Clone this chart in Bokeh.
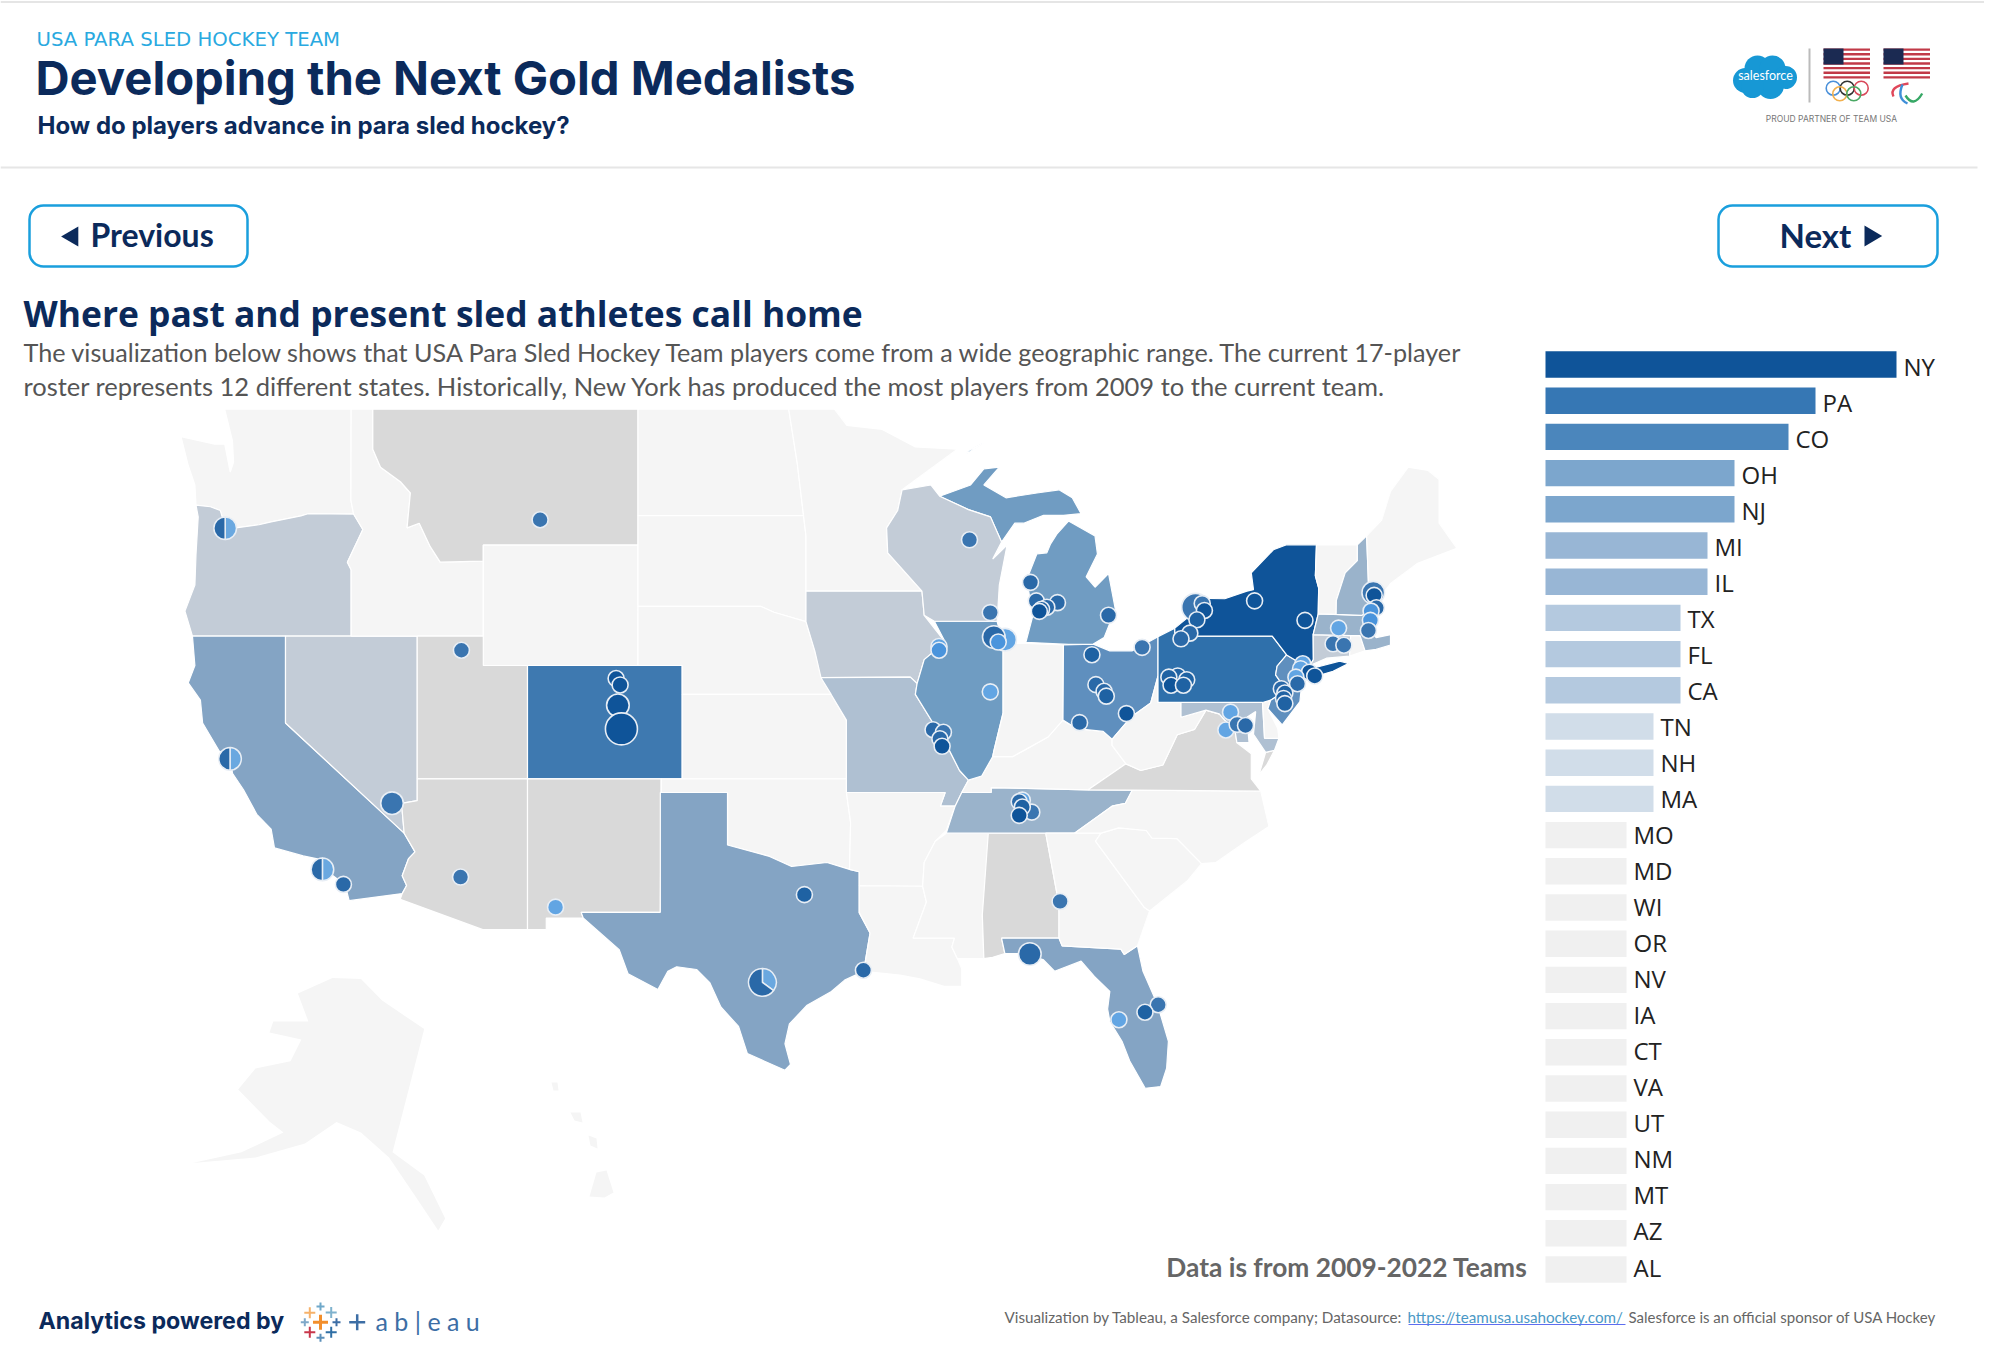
import math
from bokeh.plotting import figure
from bokeh.models import Range1d, ColumnDataSource
from bokeh.core.properties import value
from bokeh.embed import file_html
from bokeh.resources import INLINE

# ---------- bar chart data ----------
BAR_STATES = ["NY","PA","CO","OH","NJ","MI","IL","TX","FL","CA","TN","NH","MA","MO","MD","WI","OR","NV","IA","CT","VA","UT","NM","MT","AZ","AL"]
BAR_PLAYERS = [13,10,9,7,7,6,6,5,5,5,4,4,4,3,3,3,3,3,3,3,3,3,3,3,3,3]
BAR_COLORS = {13:"#0F5499",10:"#3677B4",9:"#4B86BC",7:"#7CA6CD",6:"#98B6D5",5:"#B4C9DF",4:"#D1DDE9",3:"#F0F0F0"}

# ---------- map shading: darker = more players ----------
MAP_COLORS = {"NY":"#0F5499","PA":"#2F70AB","CO":"#3E79B0","OH":"#5F8FBE","NJ":"#5F8FBE","MI":"#709CC2","IL":"#6F9CC2",
              "TX":"#84A4C4","CA":"#84A4C4","FL":"#84A4C4","TN":"#9AB3CB","NH":"#9AB3CB","MA":"#9AB3CB","MO":"#AFC0D2","MD":"#AFC0D2",
              "WI":"#C3CCD7","OR":"#C3CCD7","NV":"#C3CCD7","IA":"#C3CCD7","CT":"#C3CCD7",
              "VA":"#D9D9D9","UT":"#D9D9D9","NM":"#D9D9D9","MT":"#D9D9D9","AZ":"#D9D9D9","AL":"#D9D9D9"}
OTHER_STATE = "#F5F5F5"

# ---------- state outlines (lon, lat) ----------
STATE_OUTLINES = [
("WA",[(-124.73,48.38),(-123.2,48.15),(-122.75,48.15),(-122.5,47.3),(-122.35,47.6),(-122.4,48.25),(-122.75,49.2),(-117.03,49.2),(-117.04,46.42),(-116.92,45.99),(-118.98,46.0),(-119.3,45.93),(-120.65,45.74),(-121.2,45.65),(-122.25,45.55),(-122.76,45.65),(-122.95,46.1),(-123.4,46.22),(-124.05,46.27),(-124.1,46.9),(-124.4,47.5)]),
("OR",[(-124.05,46.27),(-123.4,46.22),(-122.95,46.1),(-122.76,45.65),(-122.25,45.55),(-121.2,45.65),(-120.65,45.74),(-119.3,45.93),(-118.98,46.0),(-116.92,45.99),(-116.5,45.5),(-117.2,44.45),(-117.03,44.2),(-117.03,42.0),(-124.21,42.0),(-124.55,42.84),(-124.1,43.7),(-124.05,44.7),(-123.95,45.9)]),
("CA",[(-124.21,42.0),(-120.0,42.0),(-120.0,39.0),(-114.63,35.0),(-114.14,34.3),(-114.43,34.05),(-114.72,33.4),(-114.52,33.03),(-114.72,32.72),(-117.12,32.45),(-117.3,33.05),(-118.4,33.75),(-118.5,34.03),(-119.2,34.15),(-120.5,34.45),(-120.65,35.15),(-121.3,35.7),(-121.9,36.6),(-122.4,37.2),(-122.5,37.8),(-123.0,38.0),(-123.75,39.0),(-123.85,39.8),(-124.4,40.4),(-124.1,41.0)]),
("NV",[(-120,42),(-114.04,42),(-114.04,36.2),(-114.75,36.1),(-114.63,35.0),(-120,39)]),
("ID",[(-117.03,49.2),(-116.05,49.2),(-116.05,48.0),(-115.7,47.45),(-114.8,47.0),(-114.35,46.65),(-114.5,45.55),(-113.95,45.7),(-113.45,44.95),(-113.0,44.45),(-111.05,44.48),(-111.05,42),(-117.03,42),(-117.03,44.2),(-117.2,44.45),(-116.5,45.5),(-116.92,45.99),(-117.04,46.42)]),
("MT",[(-116.05,49.2),(-104.05,49.2),(-104.05,45),(-111.05,45),(-111.05,44.48),(-113.0,44.45),(-113.45,44.95),(-113.95,45.7),(-114.5,45.55),(-114.35,46.65),(-114.8,47.0),(-115.7,47.45),(-116.05,48)]),
("WY",[(-111.05,45),(-104.05,45),(-104.05,41),(-111.05,41)]),
("UT",[(-114.04,42),(-111.05,42),(-111.05,41),(-109.05,41),(-109.05,37),(-114.04,37)]),
("CO",[(-109.05,41),(-102.05,41),(-102.05,37),(-109.05,37)]),
("AZ",[(-114.04,37),(-109.05,37),(-109.05,31.33),(-111.07,31.33),(-114.81,32.5),(-114.72,32.72),(-114.52,33.03),(-114.72,33.4),(-114.43,34.05),(-114.14,34.3),(-114.63,35.0),(-114.75,36.1),(-114.04,36.2)]),
("NM",[(-109.05,37),(-103.0,37),(-103.04,32.0),(-106.62,32.0),(-106.53,31.78),(-108.2,31.78),(-108.2,31.33),(-109.05,31.33)]),
("ND",[(-104.05,49.2),(-97.23,49.2),(-96.85,47.6),(-96.56,45.94),(-104.05,45.94)]),
("SD",[(-104.05,45.94),(-96.56,45.94),(-96.45,45.3),(-96.45,43.5),(-96.45,42.49),(-97.9,42.8),(-98.5,43.0),(-104.05,43)]),
("NE",[(-104.05,43),(-98.5,43),(-97.9,42.8),(-96.45,42.49),(-96.05,41.5),(-95.31,40.0),(-102.05,40),(-102.05,41),(-104.05,41)]),
("KS",[(-102.05,40),(-95.31,40),(-94.62,39.1),(-94.62,37),(-102.05,37)]),
("OK",[(-103,37),(-94.62,37),(-94.62,36.5),(-94.43,35.4),(-94.48,33.64),(-95.5,33.9),(-97.1,33.75),(-98.1,34.13),(-100,34.56),(-100,36.5),(-103,36.5)]),
("TX",[(-106.62,32),(-103.04,32),(-103.04,36.5),(-100,36.5),(-100,34.56),(-98.1,34.13),(-97.1,33.75),(-95.5,33.9),(-94.48,33.64),(-94.04,33.55),(-94.04,31.99),(-93.55,31.2),(-93.84,29.7),(-94.7,29.35),(-95.3,28.9),(-96.4,28.35),(-97.2,27.6),(-97.4,26.8),(-97.15,25.96),(-97.4,25.72),(-99.1,26.4),(-99.5,27.5),(-100.3,28.28),(-100.8,29.25),(-101.4,29.77),(-102.3,29.88),(-102.7,29.7),(-103.15,28.98),(-104.5,29.6),(-104.9,30.55),(-106.53,31.78)]),
("MN",[(-97.23,49.2),(-95.15,49.2),(-94.6,48.72),(-93,48.6),(-91.5,48.07),(-89.6,48.0),(-92.1,46.75),(-92.3,46.1),(-92.8,45.55),(-92.75,44.75),(-91.2,43.5),(-96.45,43.5),(-96.45,45.3),(-96.56,45.94),(-96.85,47.6)]),
("IA",[(-96.45,43.5),(-91.2,43.5),(-91.1,42.7),(-90.15,41.8),(-91.1,41.2),(-91.42,40.38),(-91.73,40.6),(-95.77,40.58),(-96.05,41.5),(-96.45,42.49)]),
("MO",[(-95.77,40.58),(-91.73,40.6),(-91.42,40.38),(-91.5,40.0),(-90.7,39.0),(-90.2,38.8),(-90.2,38.4),(-89.5,37.3),(-89.1,36.95),(-89.4,36.5),(-89.7,36),(-90.37,36),(-90.15,36.5),(-94.62,36.5),(-94.62,39.1),(-95.31,40)]),
("AR",[(-94.62,36.5),(-90.15,36.5),(-90.37,36),(-89.7,36),(-90.1,35.1),(-90.6,34.7),(-91.1,33.9),(-91.17,33.0),(-94.04,33.02),(-94.04,33.55),(-94.48,33.64),(-94.43,35.4)]),
("LA",[(-94.04,33.02),(-91.17,33.0),(-91.0,32.4),(-91.6,31.0),(-89.73,31.0),(-89.85,30.65),(-89.6,30.2),(-89.4,29.8),(-89.4,29.1),(-90.2,29.1),(-91.3,29.4),(-92.2,29.55),(-93.84,29.7),(-93.55,31.2),(-94.04,31.99)]),
("MS",[(-90.1,35),(-88.2,35),(-88.1,34.9),(-88.47,31.9),(-88.4,30.2),(-89.6,30.2),(-89.85,30.65),(-89.73,31),(-91.6,31),(-91,32.4),(-91.17,33),(-91.1,33.9),(-90.6,34.7)]),
("AL",[(-88.2,35),(-85.6,35),(-85.0,32.3),(-85.0,31),(-87.6,31),(-87.45,30.4),(-88.0,30.25),(-88.4,30.2),(-88.47,31.9)]),
("TN",[(-90.1,35),(-89.7,36),(-89.4,36.5),(-88.07,36.5),(-88.07,36.68),(-83.68,36.6),(-81.68,36.59),(-82.0,36.1),(-82.6,36.0),(-84.3,35.0),(-85.6,35),(-88.2,35)]),
("KY",[(-89.4,36.5),(-89.1,36.95),(-88.5,37.1),(-88.0,37.8),(-87.1,37.8),(-86.3,38.15),(-85.5,38.5),(-84.85,39.1),(-84.2,38.8),(-83.0,38.7),(-82.6,38.42),(-82.6,38.2),(-81.97,37.54),(-83.68,36.6),(-88.07,36.68),(-88.07,36.5)]),
("IL",[(-90.64,42.5),(-87.8,42.5),(-87.53,41.7),(-87.53,39.35),(-87.95,38.0),(-88.0,37.8),(-88.5,37.1),(-89.1,36.95),(-89.5,37.3),(-90.2,38.4),(-90.2,38.8),(-90.7,39.0),(-91.5,40.0),(-91.42,40.38),(-91.1,41.2),(-90.15,41.8)]),
("IN",[(-87.53,41.7),(-86.8,41.76),(-84.8,41.7),(-84.82,39.1),(-85.5,38.5),(-86.3,38.15),(-87.1,37.8),(-88.0,37.8),(-87.95,38.0),(-87.53,39.35)]),
("OH",[(-84.8,41.7),(-83.45,41.73),(-82.7,41.5),(-81.7,41.5),(-80.52,41.98),(-80.52,40.64),(-80.85,39.7),(-81.75,39.2),(-82.6,38.42),(-83.0,38.7),(-84.2,38.8),(-84.82,39.1)]),
("MI",[(-86.5,41.79),(-84.57,41.72),(-83.45,41.73),(-82.96,41.95),(-82.45,42.9),(-82.76,44.08),(-83.37,43.63),(-83.77,43.97),(-83.26,44.71),(-83.37,45.29),(-84.57,45.77),(-85.1,45.35),(-85.38,45.04),(-85.55,44.75),(-86.0,44.72),(-86.45,43.9),(-86.2,42.64)]),
("MI",[(-90.4,46.55),(-89.0,46.9),(-88.4,47.4),(-87.7,47.45),(-88.4,46.9),(-87.4,46.5),(-86.0,46.65),(-85.0,46.75),(-84.4,46.5),(-84.0,46.0),(-84.8,45.95),(-85.7,45.95),(-86.6,45.7),(-87.0,45.7),(-87.6,45.1),(-88.1,45.9),(-89.1,46.13)]),
("MI",[(-89.2,47.85),(-88.5,48.15),(-88.4,48.2),(-89.1,47.95)]),
("WI",[(-92.1,46.75),(-90.8,46.9),(-90.4,46.55),(-89.1,46.13),(-88.1,45.9),(-87.6,45.1),(-88.0,44.55),(-87.35,45.0),(-87.7,43.7),(-87.8,42.5),(-90.64,42.5),(-91.1,42.7),(-91.2,43.5),(-92.75,44.75),(-92.8,45.55),(-92.3,46.1)]),
("FL",[(-87.6,31),(-85.0,31),(-84.86,30.7),(-82.2,30.57),(-82.05,30.36),(-81.45,30.7),(-81.2,29.7),(-80.55,28.4),(-80.05,26.9),(-80.13,25.8),(-80.4,25.05),(-81.1,24.98),(-81.8,26.1),(-82.15,26.9),(-82.7,27.7),(-82.8,28.2),(-82.7,28.9),(-83.4,29.5),(-84.0,30.1),(-85.2,29.7),(-85.7,30.15),(-86.5,30.4),(-87.45,30.4)]),
("GA",[(-85.6,35),(-83.1,35),(-83.35,34.7),(-81.15,32.2),(-80.9,32.05),(-81.45,30.7),(-82.05,30.36),(-82.2,30.57),(-84.86,30.7),(-85,31),(-85,32.3)]),
("SC",[(-83.35,34.7),(-83.1,35),(-82.3,35.2),(-81.05,35.1),(-80.8,34.82),(-79.67,34.8),(-78.55,33.86),(-79.2,33.2),(-80.9,32.05),(-81.15,32.2)]),
("NC",[(-84.3,35),(-82.6,36),(-82,36.1),(-81.68,36.59),(-75.87,36.55),(-75.5,35.25),(-76.6,34.65),(-77.9,33.9),(-78.55,33.86),(-79.67,34.8),(-80.8,34.82),(-81.05,35.1),(-82.3,35.2),(-83.1,35)]),
("VA",[(-83.68,36.6),(-81.68,36.59),(-75.87,36.55),(-76.3,37.0),(-76.3,37.9),(-76.95,38.3),(-77.05,38.8),(-77.5,39.1),(-77.75,39.32),(-78.35,39.45),(-78.87,38.77),(-79.65,38.58),(-80.3,37.5),(-81.3,37.3),(-81.97,37.54)]),
("VA",[(-75.95,37.15),(-75.6,37.5),(-75.25,38.03),(-75.65,37.95)]),
("WV",[(-81.97,37.54),(-82.6,38.2),(-82.6,38.42),(-81.75,39.2),(-80.85,39.7),(-80.52,40.64),(-80.52,39.72),(-79.48,39.72),(-79.48,39.2),(-78.35,39.45),(-77.75,39.32),(-78.35,39.45),(-78.87,38.77),(-79.65,38.58),(-80.3,37.5),(-81.3,37.3)]),
("MD",[(-79.48,39.72),(-75.79,39.72),(-75.7,38.46),(-75.05,38.45),(-75.25,38.03),(-75.65,37.95),(-76.2,38.6),(-76.1,39.4),(-76.5,39.2),(-76.4,38.3),(-76.95,38.3),(-77.05,38.8),(-77.5,39.1),(-77.75,39.32),(-78.35,39.45),(-79.48,39.2)]),
("DE",[(-75.79,39.72),(-75.42,39.8),(-75.55,39.5),(-75.1,38.8),(-75.05,38.45),(-75.7,38.46)]),
("PA",[(-80.52,41.98),(-79.76,42.27),(-79.76,42),(-75.35,42),(-74.7,41.36),(-75.13,40.98),(-75.2,40.68),(-74.72,40.15),(-75.42,39.8),(-75.79,39.72),(-80.52,39.72)]),
("NJ",[(-75.13,40.98),(-74.7,41.36),(-73.9,41.0),(-74.0,40.5),(-74.1,39.75),(-74.9,38.93),(-75.55,39.5),(-75.42,39.8),(-74.72,40.15),(-75.2,40.68)]),
("NY",[(-79.76,42.27),(-79.05,42.7),(-78.9,42.9),(-79.05,43.27),(-77.5,43.25),(-76.5,43.5),(-76.2,43.55),(-76.3,44.1),(-75.3,44.85),(-74.7,45.01),(-73.35,45.01),(-73.4,44.0),(-73.25,43.6),(-73.27,42.75),(-73.5,42.05),(-73.49,41.2),(-73.65,41.0),(-73.9,41.0),(-74.7,41.36),(-75.35,42),(-79.76,42)]),
("NY",[(-74.0,40.6),(-73.7,40.87),(-72.3,41.15),(-71.9,41.07),(-72.6,40.8),(-73.6,40.58)]),
("CT",[(-73.5,42.05),(-71.8,42.02),(-71.85,41.32),(-72.9,41.25),(-73.65,41.0),(-73.49,41.2)]),
("RI",[(-71.8,42.02),(-71.38,42.02),(-71.15,41.5),(-71.85,41.32)]),
("MA",[(-73.5,42.05),(-73.27,42.75),(-71.3,42.7),(-70.85,42.88),(-70.6,42.65),(-71.0,42.3),(-70.65,41.95),(-70.0,42.05),(-70.0,41.7),(-70.65,41.55),(-71.15,41.5),(-71.38,42.02),(-71.8,42.02)]),
("VT",[(-73.35,45.01),(-71.5,45.01),(-71.5,44.5),(-72.05,44.1),(-72.45,43.2),(-72.46,42.73),(-73.27,42.75),(-73.25,43.6),(-73.4,44.0)]),
("NH",[(-71.5,45.01),(-71.08,45.3),(-70.98,43.4),(-70.7,43.07),(-70.85,42.88),(-71.3,42.7),(-72.46,42.73),(-72.45,43.2),(-72.05,44.1),(-71.5,44.5)]),
("ME",[(-71.08,45.3),(-70.4,45.8),(-70.0,46.7),(-69.2,47.45),(-68.3,47.35),(-67.8,47.07),(-67.8,45.7),(-67.0,44.9),(-68.8,44.4),(-70.0,43.75),(-70.7,43.07),(-70.98,43.4)]),
]

# inset outlines, faint
ALASKA = [(332,977.5),(360.5,978.6),(381.6,1000),(423.7,1028.6),(392,1151.8),(423.7,1175),(444.7,1217.9),(437.7,1230),(413,1193),(388.6,1157),(360.5,1132),(336,1121.4),(304.4,1142.9),(255,1157),(192,1162.5),(241,1151.8),(283,1132),(269,1121),(237.7,1089),(255,1067.9),(290,1060.7),(300.9,1039),(269,1032),(272.8,1021),(307.9,1021),(297.4,992.9)]
HAWAII = [[(589,1196),(596,1172),(606,1170),(613,1192),(604,1197)],[(570,1112),(580,1112),(582,1122),(574,1120)],[(588,1135),(596,1138),(597,1148),(590,1145)],[(551,1082),(557,1082),(558,1090),(553,1090)]]

# ---------- player home towns ----------
CITY_LON = [-108.48,-112.04,-105.04,-104.86,-104.96,-104.80,-115.18,-117.38,-112.08,-107.78,-96.52,-89.05,-88.11,-87.44,-87.95,-87.75,-90.43,-90.43,-88.11,-90.70,-90.23,-90.39,-90.29,-86.66,-86.80,-86.23,-86.66,-86.80,-86.29,-86.03,-85.07,-85.55,-85.79,-85.89,-82.76,-81.24,-83.51,-83.33,-82.96,-82.86,-81.95,-84.07,-78.82,-78.52,-78.42,-78.76,-79.08,-79.48,-76.15,-73.87,-79.63,-80.03,-79.22,-79.93,-79.37,-73.97,-74.07,-73.67,-73.43,-74.28,-74.21,-74.94,-74.78,-74.84,-74.78,-77.24,-77.45,-76.94,-76.56,-72.60,-72.11,-72.35,-70.78,-70.74,-70.64,-70.88,-70.91,-71.00,-84.95,-86.32,-93.85,-80.51,-81.11,-82.29]
CITY_LAT = [45.81,41.52,40.55,40.33,39.62,38.79,36.11,33.07,33.35,32.20,32.68,45.17,42.79,41.88,41.97,41.80,41.65,41.52,40.09,38.76,38.67,38.44,38.17,36.22,36.16,35.78,35.97,35.66,43.79,43.18,43.12,42.97,42.90,42.83,42.70,41.62,41.37,40.34,40.11,39.94,39.33,39.01,42.97,43.09,42.86,42.55,42.10,41.91,43.18,42.53,40.64,40.60,40.51,40.32,40.32,41.06,40.89,40.77,40.64,40.60,40.37,40.20,40.05,39.86,39.68,39.38,38.75,38.95,38.91,41.74,41.69,42.27,43.45,43.36,42.95,42.84,42.53,42.19,32.42,30.38,29.74,28.37,28.07,27.77]
CITY_PLAYERS = [1,1,1,1,2,4,2,1,1,1,1,1,1,2,2,1,1,1,1,1,1,1,1,1,1,1,1,1,1,1,1,1,1,1,1,1,1,1,1,1,1,1,3,1,1,1,1,1,1,1,1,1,1,1,1,1,1,1,1,1,1,1,1,1,1,1,1,1,1,1,1,1,2,1,1,1,1,1,1,2,1,1,1,1]
CITY_TONE = [3,3,0,0,0,0,3,2,3,5,1,3,3,5,2,4,5,4,5,2,3,2,0,5,2,3,1,0,2,2,2,2,1,0,2,3,1,2,2,1,0,2,3,3,0,1,2,2,0,0,1,1,1,0,1,5,5,0,0,5,2,2,1,1,1,5,5,3,2,3,3,5,3,0,2,4,4,3,3,2,2,3,1,5]
TONES = ["#0F5499","#1F62A3","#2A69A8","#3A75B0","#4A94DC","#62A5E3"]

PIE_LON = [-122.73,-122.51,-118.33,-98.42]
PIE_LAT = [45.54,37.72,33.64,29.26]
PIE_PLAYERS = [2,2,2,3]
PIE_LIGHT_SHARE = [0.5,0.5,0.5,0.35]

# ---------- scales ----------
def merc(lat):
    return math.degrees(math.log(math.tan(math.pi/4 + math.radians(lat)/2)))

X0, X1, Y0, Y1 = 0, 1984, 1344, 0
p = figure(width=1984, height=1344, x_range=(X0, X1), y_range=(Y0, Y1), toolbar_location=None,
           output_backend="svg", x_axis_type=None, y_axis_type=None, min_border=0,
           background_fill_color="white", border_fill_color="white", outline_line_color=None)
p.grid.visible = False

LON_PX, MERC_PX = 22.1, 22.0
p.extra_x_ranges["lon"] = Range1d(start=-109.05+(X0-527)/LON_PX, end=-109.05+(X1-527)/LON_PX)
p.extra_y_ranges["merc"] = Range1d(start=merc(41)+(665-Y0)/MERC_PX, end=merc(41)+(665-Y1)/MERC_PX)
COUNT_PX, ROW_PX = 27.0, 36.2
p.extra_x_ranges["count"] = Range1d(start=(X0-1545)/COUNT_PX, end=(X1-1545)/COUNT_PX)
p.extra_y_ranges["rank"] = Range1d(start=(Y0-364)/ROW_PX, end=(Y1-364)/ROW_PX)

NAVY = "#0B2A5B"
SKY = "#1A9FDD"

def label(x, y, text, size, color, font, style="normal", align="left"):
    p.text(x=[x], y=[y], text=[text], text_font=value(font), text_font_size=f"{size}px",
           text_font_style=style, text_color=color, text_align=align, text_baseline="middle")

# ---------- map ----------
xs = [[q[0] for q in pts] for _, pts in STATE_OUTLINES]
ys = [[merc(q[1]) for q in pts] for _, pts in STATE_OUTLINES]
cols = [MAP_COLORS.get(code, OTHER_STATE) for code, _ in STATE_OUTLINES]
p.patches(xs="xs", ys="ys", fill_color="col", line_color="white", line_width=1.2,
          source=ColumnDataSource(dict(xs=xs, ys=ys, col=cols)), x_range_name="lon", y_range_name="merc")

for poly in [ALASKA] + HAWAII:
    p.patch([q[0] for q in poly], [q[1] for q in poly], fill_color=OTHER_STATE, line_color=None)

city = ColumnDataSource(dict(x=CITY_LON, y=[merc(v) for v in CITY_LAT],
                             s=[16*math.sqrt(n) for n in CITY_PLAYERS],
                             c=[TONES[t] for t in CITY_TONE]))
p.scatter("x", "y", size="s", fill_color="c", line_color="#E8EEF5", line_width=1.6, source=city,
          x_range_name="lon", y_range_name="merc")

for lon, lat, n, share in zip(PIE_LON, PIE_LAT, PIE_PLAYERS, PIE_LIGHT_SHARE):
    r = 8*math.sqrt(n)
    top = math.pi/2
    split = top - 2*math.pi*share
    p.wedge(x=[lon], y=[merc(lat)], radius=r, radius_units="screen", start_angle=top, end_angle=split,
            direction="clock", fill_color="#6AA8E0", line_color="#E8EEF5", line_width=1.5,
            x_range_name="lon", y_range_name="merc")
    p.wedge(x=[lon], y=[merc(lat)], radius=r, radius_units="screen", start_angle=split, end_angle=top,
            direction="clock", fill_color="#2A69A8", line_color="#E8EEF5", line_width=1.5,
            x_range_name="lon", y_range_name="merc")

# ---------- bars ----------
n_bars = len(BAR_STATES)
bars = ColumnDataSource(dict(rank=list(range(n_bars)), v=BAR_PLAYERS, st=BAR_STATES,
                             c=[BAR_COLORS[v] for v in BAR_PLAYERS],
                             dy=[2 - 4.5*i/(n_bars-1) for i in range(n_bars)]))
p.hbar(y="rank", left=0, right="v", height=0.73, fill_color="c", line_color=None, source=bars,
       x_range_name="count", y_range_name="rank")
p.text(x="v", y="rank", text="st", x_offset=7, y_offset="dy", text_font=value("Open Sans"), text_font_size="24px",
       text_color="#222222", text_baseline="middle", source=bars, x_range_name="count", y_range_name="rank")

# ---------- header ----------
p.segment([0], [1.5], [1984], [1.5], line_color="#E5E5E5", line_width=2)
p.segment([0], [167], [1977], [167], line_color="#E6E6E6", line_width=2)
label(36, 39, "USA PARA SLED HOCKEY TEAM", 19.7, "#29A9E0", "DejaVu Sans")
label(35, 77, "Developing the Next Gold Medalists", 47.2, NAVY, "Inter", "bold")
label(37, 125, "How do players advance in para sled hockey?", 24, NAVY, "Inter", "bold")

# ---------- buttons ----------
for l, r in ((29, 247), (1718, 1937)):
    p.quad(left=[l], right=[r], top=[205], bottom=[266], border_radius=14, fill_color="white",
           line_color=SKY, line_width=2.5)
p.patch([60.6, 77.8, 77.8], [236, 226, 246], fill_color=NAVY, line_color=None)
p.patch([1881.7, 1864, 1864], [235.5, 225, 246], fill_color=NAVY, line_color=None)
label(90, 234, "Previous", 32, NAVY, "Lato", "bold")
label(1779, 234, "Next", 33, NAVY, "Lato", "bold")

# ---------- copy ----------
label(23, 312, "Where past and present sled athletes call home", 35.4, NAVY, "Open Sans", "bold")
label(23, 351, "The visualization below shows that USA Para Sled Hockey Team players come from a wide geographic range. The current 17-player", 25.2, "#555555", "Lato")
label(23, 385.5, "roster represents 12 different states. Historically, New York has produced the most players from 2009 to the current team.", 25.5, "#555555", "Lato")
label(1527, 1266, "Data is from 2009-2022 Teams", 26.3, "#666666", "Lato", "bold", "right")

# ---------- footer ----------
label(1004, 1316, "Visualization by Tableau, a Salesforce company; Datasource:", 15.2, "#666666", "Lato")
label(1407, 1316, "https://teamusa.usahockey.com/", 15.2, "#4A98C5", "Lato")
p.segment([1408], [1324], [1625], [1324], line_color="#5E6EF0", line_width=1)
label(1628, 1316, "Salesforce is an official sponsor of USA Hockey", 15, "#666666", "Lato")
label(38, 1320, "Analytics powered by", 23.2, NAVY, "Inter", "bold")

# tableau mark
LOGO_X = [320, 309.3, 330.7, 309.3, 330.7, 320, 304.3, 336, 320, 356.7]
LOGO_Y = [1321.7, 1312.3, 1312, 1331.7, 1331.7, 1306, 1321.7, 1321.7, 1337.3, 1321.7]
LOGO_S = [15, 11, 11, 11, 11, 8, 8, 8, 8, 16]
LOGO_W = [3, 2, 2, 2, 2, 2, 2, 2, 2, 2.5]
LOGO_C = ["#F28E2B", "#F6B26B", "#7FB2CE", "#C8374B", "#2F6FA5", "#6FA8C9", "#7FA8C9", "#3D6EA5", "#5B8FB9", "#3D6EA5"]
p.scatter(LOGO_X, LOGO_Y, marker="cross", size=LOGO_S, line_color=LOGO_C, line_width=LOGO_W, fill_color=None)
label(375, 1320, "a    b  |   e    a    u", 25, "#3D6EA5", "Lato")

# ---------- sponsor logos ----------
CLOUD_X = [1745, 1757, 1772, 1785, 1770, 1752]
CLOUD_Y = [80, 68, 68, 77, 85, 86]
CLOUD_D = [25, 26, 26, 23, 27, 23]
p.scatter(CLOUD_X, CLOUD_Y, size=CLOUD_D, fill_color="#1798D5", line_color=None)
label(1765, 75, "salesforce", 12.5, "white", "Lato", "normal", "center")
p.segment([1809], [48], [1809], [102], line_color="#BBBBBB", line_width=2)
for fx in (1823, 1883):
    p.quad(left=[fx]*7, right=[fx+46.5]*7,
           top=[48+i*4.62 for i in range(7)], bottom=[48+i*4.62+2.31 for i in range(7)],
           fill_color="#C13A48", line_color=None)
    p.quad(left=[fx], right=[fx+20], top=[48], bottom=[64], fill_color="#1B2A52", line_color=None)
RING_X = [1832.7, 1846.7, 1860.7, 1839.3, 1853.3]
RING_Y = [87.7, 87.7, 87.7, 93.3, 93.3]
RING_C = ["#4A90D9", "#333333", "#D9485A", "#F2B04D", "#4AA864"]
p.scatter(RING_X, RING_Y, size=14, fill_color=None, line_color=RING_C, line_width=1.6)
p.quadratic([1908], [83], [1893], [96], [1888], [86], line_color="#E0485A", line_width=2.4)
p.quadratic([1902], [84], [1907], [103], [1896], [98], line_color="#3F8FD8", line_width=2.4)
p.quadratic([1905], [95], [1921.7], [93], [1913], [108], line_color="#37A866", line_width=2.4)
label(1831, 118, "PROUD PARTNER OF TEAM USA", 8.5, "#777777", "Inter", "normal", "center")

open("out.html", "w").write(file_html(p, INLINE))
